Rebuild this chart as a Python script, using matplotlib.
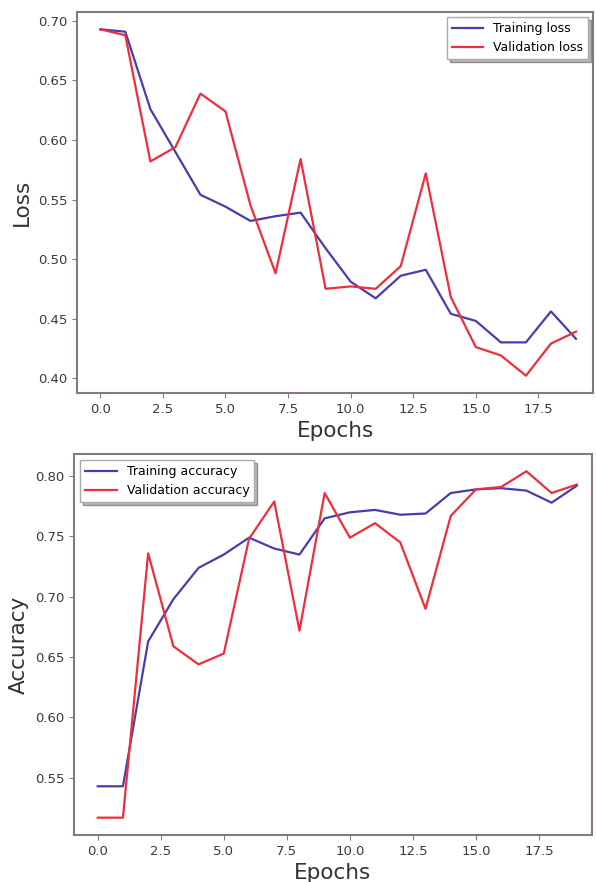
#! /usr/bin/env python

"""
Training / validation curves (loss and accuracy) for 20 epochs.
"""

from matplotlib import pyplot as plt

# values read per epoch
epochs = list(range(20))

train_loss = [0.693, 0.691, 0.626, 0.590, 0.554, 0.544, 0.532, 0.536, 0.539, 0.509,
              0.481, 0.467, 0.486, 0.491, 0.454, 0.448, 0.430, 0.430, 0.456, 0.433]
val_loss = [0.693, 0.688, 0.582, 0.594, 0.639, 0.624, 0.545, 0.488, 0.584, 0.475,
            0.477, 0.475, 0.494, 0.572, 0.468, 0.426, 0.419, 0.402, 0.429, 0.439]

train_acc = [0.543, 0.543, 0.663, 0.698, 0.724, 0.735, 0.749, 0.740, 0.735, 0.765,
             0.770, 0.772, 0.768, 0.769, 0.786, 0.789, 0.790, 0.788, 0.778, 0.792]
val_acc = [0.517, 0.517, 0.736, 0.659, 0.644, 0.653, 0.748, 0.779, 0.672, 0.786,
           0.749, 0.761, 0.745, 0.690, 0.767, 0.789, 0.791, 0.804, 0.786, 0.793]

blue = '#4b3cae'
red = '#ec2f3a'
spine_col = '#857a78'
shadow_style = {'facecolor': '#8a8080', 'alpha': 0.55}


def style_axes(ax):
    """Grey spines, dark-grey tick labels."""
    for s in ax.spines.values():
        s.set_color(spine_col)
        s.set_linewidth(1.5)
    ax.tick_params(labelsize=9.5, colors='#3a3a3a', color=spine_col)


fig = plt.figure(figsize=(5.96, 8.82), dpi=100)

# loss
ax1 = fig.add_axes([0.1292, 0.5544, 0.8658, 0.432])
ax1.plot(epochs, train_loss, color=blue, lw=1.6, label='Training loss')
ax1.plot(epochs, val_loss, color=red, lw=1.6, label='Validation loss')
ax1.set_xlim(-0.93, 19.68)
ax1.set_xlabel('Epochs', fontsize=15.5, color='#333333')
ax1.set_ylabel('Loss', fontsize=15.5, color='#333333')
ax1.legend(loc='upper right', fontsize=9, shadow=shadow_style, fancybox=False,
           edgecolor='#aaaaaa', borderaxespad=0.4, handlelength=2.5)
style_axes(ax1)

# accuracy
ax2 = fig.add_axes([0.1242, 0.0533, 0.869, 0.432])
ax2.plot(epochs, train_acc, color=blue, lw=1.6, label='Training accuracy')
ax2.plot(epochs, val_acc, color=red, lw=1.6, label='Validation accuracy')
ax2.set_xlim(-0.94, 19.6)
ax2.set_xlabel('Epochs', fontsize=15.5, color='#333333')
ax2.set_ylabel('Accuracy', fontsize=15.5, color='#333333')
ax2.legend(loc='upper left', fontsize=9, shadow=shadow_style, fancybox=False,
           edgecolor='#aaaaaa', handlelength=2.5)
style_axes(ax2)

plt.savefig('out.png', dpi=100)
